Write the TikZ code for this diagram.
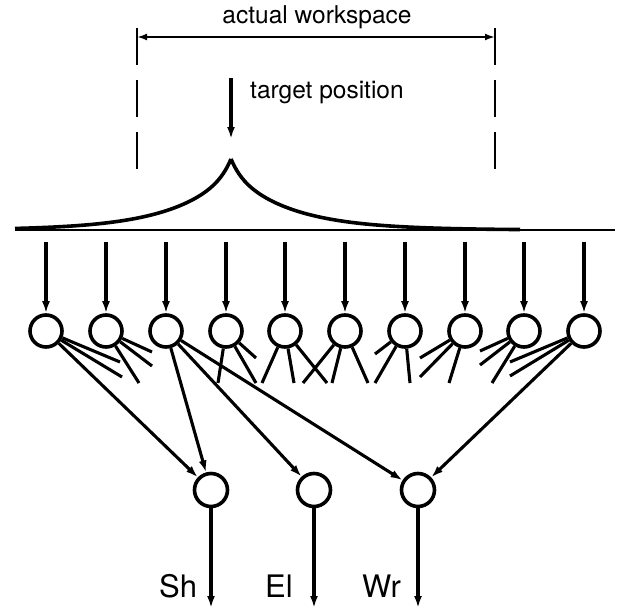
\documentclass[tikz,border=0pt]{standalone}
\usepackage{fontspec}
\setmainfont{TeX Gyre Heros}
\usetikzlibrary{arrows.meta}
\begin{document}
\begin{tikzpicture}[x=1pt,y=-1pt,
  neuron/.style={circle,draw,line width=3.6pt,minimum size=32pt,inner sep=0pt},
  outneuron/.style={circle,draw,line width=3.6pt,minimum size=33pt,inner sep=0pt},
  arr/.style={line width=3.1pt,-{Latex[length=12pt,width=8pt]}},
  thinarr/.style={line width=2.4pt,{Latex[length=10pt,width=7pt]}-{Latex[length=10pt,width=7pt]}},
  stub/.style={line width=3.1pt},
  lbl/.style={font=\fontsize{31}{31}\selectfont,inner sep=0pt,anchor=base west},
  ttl/.style={font=\fontsize{24.5}{24.5}\selectfont,inner sep=0pt}]
\useasboundingbox (0,0) rectangle (621,610);

% --- top annotation ---
\node[ttl,anchor=base] (ws) at (317,24) {actual workspace};
\coordinate (wsL) at (137,37);
\coordinate (wsR) at (495,37);
\draw[thinarr] (wsL) -- (wsR);
\draw[line width=1.8pt,dash pattern=on 37pt off 15pt] (137,28) -- (137,170);
\draw[line width=1.8pt,dash pattern=on 37pt off 15pt] (495,28) -- (495,170);

\node[ttl,anchor=base west] (tp) at (250,98) {target position};
\coordinate (tpA) at (231,78);
\coordinate (tpB) at (231,139);
\draw[arr] (tpA) -- (tpB);

% --- activity profile and baseline ---
\draw[line width=2.8pt] (15,230) -- (615,230);
\draw[line width=3.6pt,line join=round] plot[domain=15:231,samples=150,smooth]
  (\x,{230-71*(0.2*exp(-(231-\x)/10)+0.8*exp(-(231-\x)/60))});
\draw[line width=3.6pt,line join=round] plot[domain=231:520,samples=150,smooth]
  (\x,{230-71*(0.2*exp(-(\x-231)/10)+0.8*exp(-(\x-231)/60))});

% --- first layer ---
\foreach \i/\x in {1/46,2/106,3/166,4/226,5/285,6/345,7/405,8/465,9/524,10/584}{
  \node[neuron] (n\i) at (\x,331) {};
  \coordinate (in\i) at (\x,242);
  \draw[arr] (in\i) -- (n\i);
}

% --- second layer ---
\node[outneuron] (sh) at (211,490) {};
\node[outneuron] (el) at (314,490) {};
\node[outneuron] (wr) at (418,490) {};
\coordinate (shO) at (211,608);
\coordinate (elO) at (314,608);
\coordinate (wrO) at (418,608);
\draw[arr] (sh) -- (shO);
\draw[arr] (el) -- (elO);
\draw[arr] (wr) -- (wrO);
\node[lbl] (lsh) at (159,597) {Sh};
\node[lbl] (lel) at (265,597) {El};
\node[lbl] (lwr) at (362,597) {Wr};

% --- long connections ---
\draw[arr] (n1) -- (sh);
\draw[arr] (n3) -- (sh);
\draw[arr] (n3) -- (el);
\draw[arr] (n3) -- (wr);
\draw[arr] (n10) -- (wr);

% --- stub connections ---
\foreach \n/\k/\x/\y in {1/a/120/362, 1/b/122/377,
  2/a/152/352, 2/b/152/366, 2/c/139/383,
  4/a/218/383, 4/b/256/383, 4/c/256/358,
  5/a/262/383, 5/b/294/383, 5/c/327/383,
  6/a/303/383, 6/b/332/383, 6/c/368/383,
  7/a/375/354, 7/b/375/383, 7/c/410/383,
  8/a/420/358, 8/b/420/377, 8/c/449/383,
  9/a/480/351, 9/b/480/365, 9/c/492/383,
  10/a/510/362, 10/b/510/376}{
  \coordinate (s\n\k) at (\x,\y);
  \draw[stub] (n\n) -- (s\n\k);
}
\end{tikzpicture}
\end{document}
